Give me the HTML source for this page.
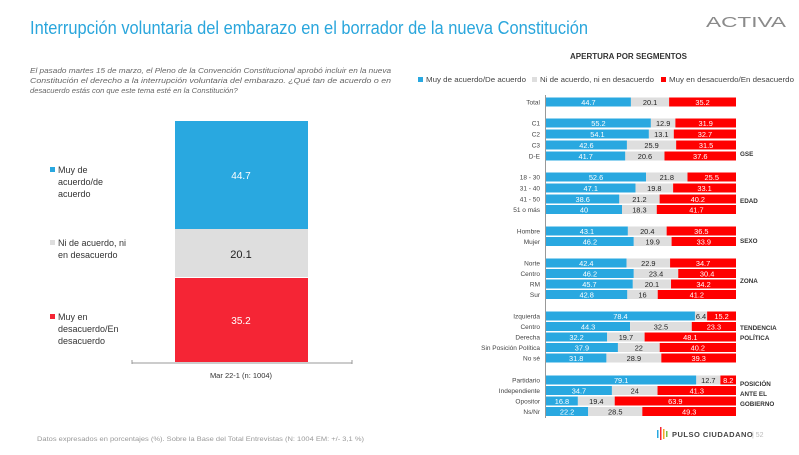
<!DOCTYPE html>
<html><head><meta charset="utf-8"><style>
html,body{margin:0;padding:0;background:#fff;}
body{width:799px;height:450px;overflow:hidden;position:relative;font-family:"Liberation Sans",sans-serif;}
svg text{font-family:"Liberation Sans",sans-serif;}
</style></head><body>
<svg width="799" height="450" viewBox="0 0 799 450" xmlns="http://www.w3.org/2000/svg">
<text x="30" y="34" font-size="18" fill="#2aa6dc" textLength="558" lengthAdjust="spacingAndGlyphs">Interrupción voluntaria del embarazo en el borrador de la nueva Constitución</text>
<text x="706" y="27" font-size="15" fill="#8a8a8a" textLength="80" lengthAdjust="spacingAndGlyphs">ACTIVA</text>
<g font-size="7.6" font-style="italic" fill="#666">
<text x="30" y="73" textLength="361" lengthAdjust="spacingAndGlyphs">El pasado martes 15 de marzo, el Pleno de la Convención Constitucional aprobó incluir en la nueva</text>
<text x="30" y="83" textLength="361" lengthAdjust="spacingAndGlyphs">Constitución el derecho a la interrupción voluntaria del embarazo. ¿Qué tan de acuerdo o en</text>
<text x="30" y="93">desacuerdo estás con que este tema esté en la Constitución?</text>
</g>
<rect x="175" y="121" width="133" height="108" fill="#29a8e0"/>
<rect x="175" y="229" width="133" height="48" fill="#dedede"/>
<rect x="175" y="278" width="133" height="84" fill="#f52535"/>
<text x="241" y="179" font-size="10" fill="#fff" text-anchor="middle">44.7</text>
<text x="241" y="258" font-size="11" fill="#222" text-anchor="middle">20.1</text>
<text x="241" y="324" font-size="10" fill="#fff" text-anchor="middle">35.2</text>
<line x1="132" y1="363" x2="352" y2="363" stroke="#999" stroke-width="1"/>
<line x1="132" y1="360" x2="132" y2="364" stroke="#999"/><line x1="352" y1="360" x2="352" y2="364" stroke="#999"/>
<text x="241" y="378" font-size="7.5" fill="#333" text-anchor="middle">Mar 22-1 (n: 1004)</text>
<g font-size="9" fill="#333">
<rect x="50" y="167" width="5" height="5" fill="#29a8e0"/>
<text x="58" y="173">Muy de</text><text x="58" y="185">acuerdo/de</text><text x="58" y="197">acuerdo</text>
<rect x="50" y="240" width="5" height="5" fill="#dedede"/>
<text x="58" y="246">Ni de acuerdo, ni</text><text x="58" y="258">en desacuerdo</text>
<rect x="50" y="314" width="5" height="5" fill="#f52535"/>
<text x="58" y="320">Muy en</text><text x="58" y="332">desacuerdo/En</text><text x="58" y="344">desacuerdo</text>
</g>
<text x="37" y="441" font-size="6.8" fill="#999" textLength="327" lengthAdjust="spacingAndGlyphs">Datos expresados en porcentajes (%). Sobre la Base del Total Entrevistas (N: 1004  EM: +/- 3,1 %)</text>

<text x="570" y="59" font-size="8" font-weight="bold" fill="#333">APERTURA POR SEGMENTOS</text>
<g font-size="7.5" fill="#444">
<rect x="418" y="77" width="5" height="5" fill="#29a8e0"/><text x="426" y="82" textLength="100" lengthAdjust="spacingAndGlyphs">Muy de acuerdo/De acuerdo</text>
<rect x="532" y="77" width="5" height="5" fill="#dedede"/><text x="540" y="82" textLength="114" lengthAdjust="spacingAndGlyphs">Ni de acuerdo, ni en desacuerdo</text>
<rect x="661" y="77" width="5" height="5" fill="#f00"/><text x="669" y="82" textLength="125" lengthAdjust="spacingAndGlyphs">Muy en desacuerdo/En desacuerdo</text>
</g>
<line x1="545.5" y1="95" x2="545.5" y2="418" stroke="#999"/>
<g id="bars" font-size="7.4"></g>
<g font-size="6.3" font-weight="bold" fill="#333">
<text x="740" y="156">GSE</text>
<text x="740" y="203">EDAD</text>
<text x="740" y="243">SEXO</text>
<text x="740" y="283">ZONA</text>
<text x="740" y="330">TENDENCIA</text><text x="740" y="340">POLÍTICA</text>
<text x="740" y="386">POSICIÓN</text><text x="740" y="396">ANTE EL</text><text x="740" y="406">GOBIERNO</text>
</g>
<g>
<rect x="657" y="430" width="1.5" height="8" fill="#29a8e0"/><rect x="660" y="427" width="1.5" height="13" fill="#f52535"/><rect x="663" y="429" width="1.5" height="10" fill="#f5a623"/><rect x="666" y="431" width="1.5" height="6" fill="#7ac143"/>
<text x="672" y="437" font-size="7.5" font-weight="bold" fill="#444" letter-spacing="0.5">PULSO CIUDADANO</text>
<text x="752" y="437" font-size="7" fill="#bbb">|  52</text>
</g>
</svg>
<script>
const rows=[["Total",102,44.7,20.1,35.2],["C1",123,55.2,12.9,31.9],["C2",134,54.1,13.1,32.7],["C3",145,42.6,25.9,31.5],["D-E",156,41.7,20.6,37.6],
["18 - 30",177,52.6,21.8,25.5],["31 - 40",188,47.1,19.8,33.1],["41 - 50",199,38.6,21.2,40.2],["51 o más",209.5,40,18.3,41.7],
["Hombre",231,43.1,20.4,36.5],["Mujer",241.5,46.2,19.9,33.9],
["Norte",263,42.4,22.9,34.7],["Centro",273.5,46.2,23.4,30.4],["RM",284,45.7,20.1,34.2],["Sur",294.5,42.8,16,41.2],
["Izquierda",316,78.4,6.4,15.2],["Centro",326.5,44.3,32.5,23.3],["Derecha",337,32.2,19.7,48.1],["Sin Posición Política",347.5,37.9,22,40.2],["No sé",358,31.8,28.9,39.3],
["Partidario",380,79.1,12.7,8.2],["Independiente",390.5,34.7,24,41.3],["Opositor",401,16.8,19.4,63.9],["Ns/Nr",411.5,22.2,28.5,49.3]];
const g=document.getElementById('bars');let h='';
const X=546,W=190,BH=9;
rows.forEach(r=>{const[l,y,a,b,c]=r;const t=a+b+c;const wa=a/t*W,wb=b/t*W,wc=c/t*W;const y0=y-BH/2;
h+=`<text x="540" y="${y+2.5}" text-anchor="end" fill="#444" font-size="6.5">${l}</text>`;
h+=`<rect x="${X}" y="${y0}" width="${wa}" height="${BH}" fill="#29a8e0"/>`;
h+=`<rect x="${X+wa}" y="${y0}" width="${wb}" height="${BH}" fill="#dedede"/>`;
h+=`<rect x="${X+wa+wb}" y="${y0}" width="${wc}" height="${BH}" fill="#f00"/>`;
h+=`<text x="${X+wa/2}" y="${y+3}" text-anchor="middle" fill="#fff">${a}</text>`;
h+=`<text x="${X+wa+wb/2}" y="${y+3}" text-anchor="middle" fill="#222">${b}</text>`;
h+=`<text x="${X+wa+wb+wc/2}" y="${y+3}" text-anchor="middle" fill="#fff">${c}</text>`;});
g.innerHTML=h;
</script>
</body></html>
